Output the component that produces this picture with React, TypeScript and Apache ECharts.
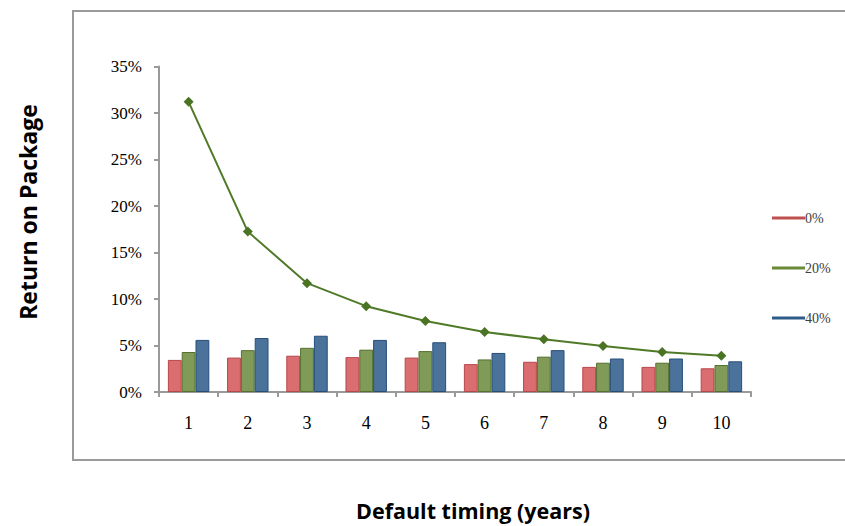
import React, { useEffect, useRef } from "react";
import * as echarts from "echarts";

const categories = ["1", "2", "3", "4", "5", "6", "7", "8", "9", "10"];
const series0 = [3.45, 3.7, 3.9, 3.75, 3.7, 3.0, 3.25, 2.7, 2.7, 2.55];
const series20 = [4.3, 4.5, 4.75, 4.55, 4.4, 3.5, 3.8, 3.15, 3.15, 2.9];
const series40 = [5.6, 5.8, 6.05, 5.6, 5.35, 4.2, 4.5, 3.6, 3.6, 3.3];
const curve = [31.2, 17.25, 11.7, 9.23, 7.63, 6.45, 5.67, 4.95, 4.3, 3.9];
const legendNames = ["0%", "20%", "40%"];
const xTitle = "Default timing (years)";
const yTitle = "Return on Package";

export default function App() {
  const ref = useRef<HTMLDivElement>(null);
  useEffect(() => {
    if (!ref.current) return;
    const chart = echarts.init(ref.current, null, { renderer: "svg" });
    const serif = "Liberation Serif";
    const titleFont = "Open Sans";
    chart.setOption({
      animation: false,
      backgroundColor: "#ffffff",
      graphic: [
        {
          type: "rect",
          shape: { x: 73, y: 11, width: 820, height: 449 },
          style: { fill: "none", stroke: "#9a9a9a", lineWidth: 2 },
          z: -1,
        },
        {
          type: "text",
          x: 28,
          y: 212,
          rotation: Math.PI / 2,
          style: {
            text: yTitle,
            fontFamily: titleFont,
            fontWeight: "bold",
            fontSize: 23,
            fill: "#000",
            align: "center",
            verticalAlign: "middle",
          },
        },
        {
          type: "text",
          x: 473,
          y: 510,
          style: {
            text: xTitle,
            fontFamily: titleFont,
            fontWeight: "bold",
            fontSize: 21.5,
            fill: "#000",
            align: "center",
            verticalAlign: "middle",
          },
        },
      ],
      grid: { left: 159, right: 94, top: 66.5, bottom: 134, containLabel: false },
      legend: {
        orient: "vertical",
        left: 767,
        top: 206,
        itemGap: 36,
        itemWidth: 33,
        itemHeight: 3,
        icon: "rect",
        textStyle: { fontFamily: serif, fontSize: 14, color: "#404040", padding: [0, 0, 0, -5] },
        data: [
          { name: legendNames[0], itemStyle: { color: "#c0504d", borderWidth: 0 } },
          { name: legendNames[1], itemStyle: { color: "#6a8a38", borderWidth: 0 } },
          { name: legendNames[2], itemStyle: { color: "#2e5c8a", borderWidth: 0 } },
        ],
      },
      xAxis: {
        type: "category",
        data: categories,
        axisLine: { lineStyle: { color: "#9a9a9a", width: 2 } },
        axisTick: { show: true, length: 5, lineStyle: { color: "#9a9a9a", width: 2 } },
        axisLabel: { fontFamily: serif, fontSize: 18, color: "#000", margin: 22 },
      },
      yAxis: {
        type: "value",
        min: 0,
        max: 35,
        interval: 5,
        splitLine: { show: false },
        axisLine: { show: true, lineStyle: { color: "#9a9a9a", width: 2 } },
        axisTick: { show: true, length: 5, lineStyle: { color: "#9a9a9a", width: 2 } },
        axisLabel: { fontFamily: serif, fontSize: 17, color: "#000", margin: 17, formatter: "{value}%" },
      },
      series: [
        {
          name: legendNames[0],
          type: "bar",
          data: series0,
          barGap: "0%",
          barCategoryGap: "30%",
          itemStyle: { color: "#d96d70", borderColor: "#b8474a", borderWidth: 1 },
        },
        {
          name: legendNames[1],
          type: "bar",
          data: series20,
          barGap: "0%",
          barCategoryGap: "30%",
          itemStyle: { color: "#7f9b57", borderColor: "#55702e", borderWidth: 1 },
        },
        {
          name: legendNames[2],
          type: "bar",
          data: series40,
          barGap: "0%",
          barCategoryGap: "30%",
          itemStyle: { color: "#4b729a", borderColor: "#254f7a", borderWidth: 1 },
        },
        {
          name: "curve",
          type: "line",
          data: curve,
          symbol: "diamond",
          symbolSize: 10,
          lineStyle: { color: "#4f7a28", width: 2 },
          itemStyle: { color: "#4a7424" },
          z: 5,
        },
      ],
    });
    return () => chart.dispose();
  }, []);
  return (
    <div
      ref={ref}
      style={{ position: "absolute", left: 0, top: 0, width: 845, height: 526 }}
    />
  );
}
